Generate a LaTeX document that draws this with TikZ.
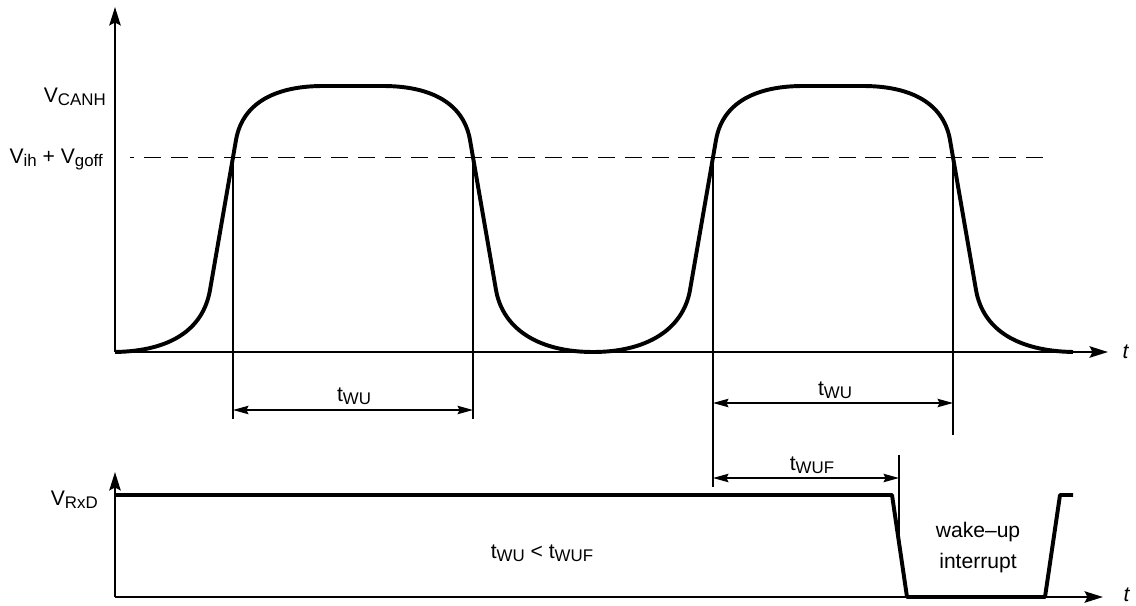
\documentclass[tikz,border=0pt]{standalone}
\usepackage{fontspec}
\setmainfont{Liberation Sans}
\usepackage{tikz}
\usetikzlibrary{arrows,arrows.meta,shapes,positioning}

\newcommand{\lowsub}[1]{\raisebox{-0.3ex}{\fontsize{12}{14}\selectfont #1}}

\tikzset{
  axis/.style={line width=1.9pt, -{Stealth[length=13pt,width=8pt,inset=2pt]}},
  signal/.style={line width=2.8pt, line join=round},
  guide/.style={line width=0.8pt},
  dim/.style={line width=0.9pt, {Stealth[length=11pt,width=6pt,inset=1.5pt]}-{Stealth[length=11pt,width=6pt,inset=1.5pt]}},
  level/.style={line width=0.7pt, dash pattern=on 12pt off 7pt, dash phase=9pt}
}

\begin{document}
\begin{tikzpicture}[x=0.025cm, y=-0.025cm, every node/.style={font=\fontsize{15}{18}\selectfont, inner sep=0pt}]
\useasboundingbox (0,0) rectangle (1136,605);

% upper diagram: CANH
\coordinate (o1) at (115,352);
\draw [axis] (o1) -- (115,7);
\draw [axis] (o1) -- (1108,352);
\node (t1) [anchor=base] at (1126,358) {\textit{t}};

\draw [level] (130,157) -- (1048,157);
\node (vcanh) [anchor=base east] at (106,102) {V\lowsub{CANH}};
\node (vih) [anchor=base east] at (103,163) {V\lowsub{ih} + V\lowsub{goff}};

% guide lines at the threshold crossings
\draw [guide] (233,157) -- (233,419);
\draw [guide] (473,157) -- (473,419);
\draw [guide] (713,157) -- (713,487);
\draw [guide] (953,157) -- (953,435);
\draw [guide] (899,455) -- (899,545);

\draw [signal] (o1) .. controls (170,351) and (203,330) .. (210,290) -- (236,140)
  .. controls (243,100) and (280,86) .. (323,86) -- (383,86)
  .. controls (426,86) and (463,100) .. (470,140) -- (496,290)
  .. controls (503,330) and (540,352) .. (593,352)
  .. controls (646,352) and (683,330) .. (690,290) -- (716,140)
  .. controls (723,100) and (760,86) .. (803,86) -- (863,86)
  .. controls (906,86) and (943,100) .. (950,140) -- (976,290)
  .. controls (983,330) and (1018,351) .. (1073,352);

% timing
\coordinate (wua) at (233,410);
\coordinate (wub) at (473,410);
\draw [dim] (wua) -- (wub);
\node (twu1) [anchor=base] at (354,401) {t\lowsub{WU}};

\coordinate (wuc) at (713,403);
\coordinate (wud) at (953,403);
\draw [dim] (wuc) -- (wud);
\node (twu2) [anchor=base] at (835,395) {t\lowsub{WU}};

\coordinate (wufa) at (713,478);
\coordinate (wufb) at (899,478);
\draw [dim] (wufa) -- (wufb);
\node (twuf) [anchor=base] at (812,470) {t\lowsub{WUF}};

% lower diagram: RxD
\coordinate (o2) at (115,597);
\draw [axis] (o2) -- (115,472);
\draw [axis] (o2) -- (1103,597);
\node (t2) [anchor=base] at (1127,601) {\textit{t}};
\node (vrxd) [anchor=base east] at (98,505) {V\lowsub{RxD}};

\draw [signal] (115,495) -- (892,495) -- (907,597) -- (1045,597) -- (1060,495) -- (1073,495);

\node (cond) [anchor=base] at (542,558) {t\lowsub{WU} < t\lowsub{WUF}};
\node (wake) [align=center, font=\fontsize{15}{22}\selectfont] at (978,548) {wake–up\\interrupt};
\end{tikzpicture}
\end{document}
